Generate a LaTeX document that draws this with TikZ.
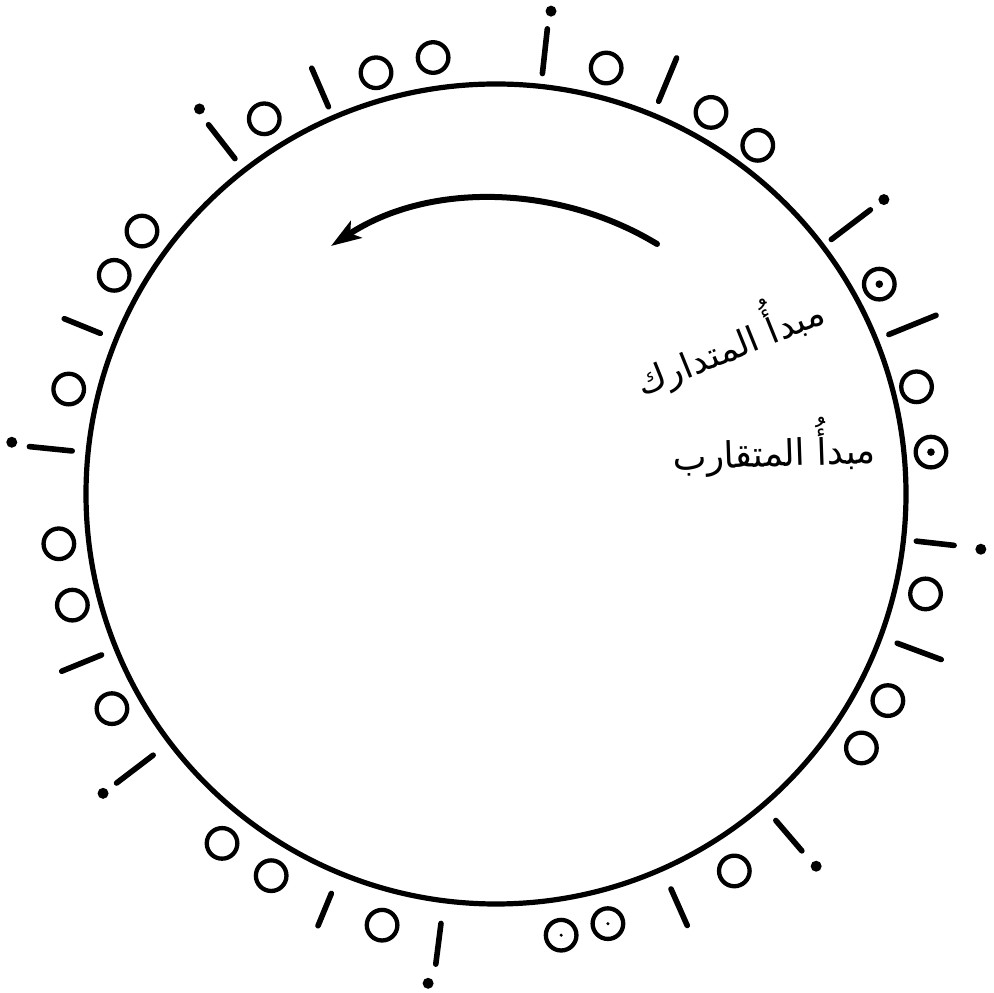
\documentclass[tikz,border=0pt]{standalone}
\usepackage{fontspec}
\usepackage{graphicx}
\newfontfamily\arabicfont[Script=Arabic]{DejaVu Sans}
\TeXXeTstate=1
\usetikzlibrary{arrows.meta}
\tikzset{
  ink/.style={line width=5.6, line cap=round},
  ring/.style={draw, line width=4.3},
  rim/.style={line width=5.2},
  label/.style={inner sep=0pt, outer sep=0pt}
}
\begin{document}
\begin{tikzpicture}[x=1pt,y=1pt]
\useasboundingbox (0,0) rectangle (994,993);
\coordinate (O) at (496,499);
\draw[rim] (O) circle (410);
% rings
\foreach \a/\r in {75.5/440, 60.6/438, 53.1/436,
                   28.7/437, 14.3/434, 5.5/437,
                   -13.1/441, -27.8/443, -34.8/445,
                   -57.7/446, -75.4/444, -81.6/446,
                   -104.8/446, -120.5/443, -128.1/444,
                   -150.8/440, -165.3/438, -173.5/440,
                   166.2/440, 150.2/440, 143.4/441,
                   121.7/441, 105.9/438, 98.2/441}
  \draw[ring] (O) ++(\a:\r) circle (15.3);
% dots inside rings
\foreach \a/\r/\s in {28.7/437/3.8, 5.5/437/3.8, -75.4/444/1.7, -81.6/446/1.7}
  \fill (O) ++(\a:\r) circle (\s);
% radial strokes
\foreach \a/\i/\o in {83.7/423/468, 67.5/425/472,
                      37.2/421/470, 22.1/424/475,
                      -6.4/423/461, -20.4/428/475,
                      -49.4/430/470, -66.1/432/472,
                      -97.3/433/474, -112.4/432/467,
                      -142.7/431/477, -157.8/426/469,
                      174.2/426/469, 157.9/427/466,
                      127.9/425/468, 113.4/422/464}
  \draw[ink] (O) ++(\a:\i) -- ++(\a:{\o-\i});
% dots of the i-marks
\foreach \a/\r in {83.5/486, 37.2/487, -6.5/488, -49.3/491,
                   -97.9/494, -142.7/494, 173.9/487, 127.6/486}
  \fill (O) ++(\a:\r) circle (5.5);
% arrow
\coordinate (as) at (657,749);
\coordinate (ae) at (331,747);
\draw[line width=6, line cap=round, -{Stealth[length=30,width=20,inset=7]}]
  (as) .. controls (560,808) and (430,812) .. (ae);
% texts
\node[label, rotate=22] (t1) at (728,651)
  {\resizebox{200pt}{46pt}{\arabicfont\beginR مبدأُ المتدارك\endR}};
\node[label, rotate=2] (t2) at (774,546)
  {\resizebox{203pt}{48pt}{\arabicfont\beginR مبدأُ المتقارب\endR}};
\end{tikzpicture}
\end{document}
